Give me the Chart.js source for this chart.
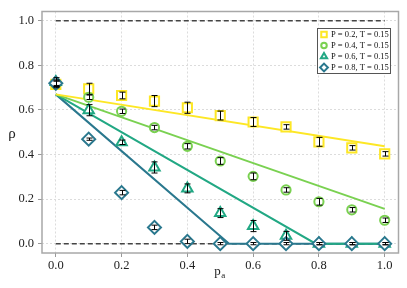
<!DOCTYPE html>
<html>
<head>
<meta charset="utf-8">
<script src="https://cdn.jsdelivr.net/npm/chart.js@4"></script>
<style>
  body { margin: 0; background: #fff; }
  canvas { display: block; }
</style>
</head>
<body>
<canvas id="myChart" width="407" height="288"></canvas>
<script>
// datos
const pa = [0.0, 0.1, 0.2, 0.3, 0.4, 0.5, 0.6, 0.7, 0.8, 0.9, 1.0];
const rhoP02 = [0.715, 0.695, 0.665, 0.640, 0.610, 0.575, 0.546, 0.524, 0.457, 0.430, 0.403];
const errP02 = [0.015, 0.025, 0.015, 0.025, 0.025, 0.020, 0.020, 0.010, 0.020, 0.010, 0.010];
const rhoP04 = [0.720, 0.657, 0.594, 0.521, 0.437, 0.371, 0.302, 0.241, 0.188, 0.152, 0.105];
const errP04 = [0.010, 0.010, 0.010, 0.010, 0.012, 0.015, 0.015, 0.010, 0.015, 0.010, 0.010];
const rhoP06 = [0.725, 0.599, 0.455, 0.342, 0.248, 0.137, 0.079, 0.035, 0.0, 0.0, 0.0];
const errP06 = [0.020, 0.025, 0.010, 0.025, 0.020, 0.020, 0.025, 0.020, 0.005, 0.005, 0.005];
const rhoP08 = [0.720, 0.469, 0.229, 0.073, 0.010, 0.0, 0.0, 0.0, 0.0, 0.0, 0.0];
const errP08 = [0.015, 0.005, 0.010, 0.010, 0.010, 0.005, 0.005, 0.005, 0.005, 0.005, 0.005];

// rectas de ajuste
const fitX02 = [0.0, 1.0];   const fitY02 = [0.67, 0.437];
const fitX04 = [0.0, 1.0];   const fitY04 = [0.67, 0.156];
const fitX06 = [0.0, 0.79, 1.0];  const fitY06 = [0.67, 0.0, 0.0];
const fitX08 = [0.0, 0.527, 1.0]; const fitY08 = [0.67, 0.0, 0.0];

const refX = [0.0, 1.0];
const xTicks = [0.0, 0.2, 0.4, 0.6, 0.8, 1.0];
const yTicks = [0.0, 0.2, 0.4, 0.6, 0.8, 1.0];
const labels = ["P = 0.2, T = 0.15", "P = 0.4, T = 0.15", "P = 0.6, T = 0.15", "P = 0.8, T = 0.15"];

const colors = ["#fde725", "#7ad151", "#22a884", "#2a788e"];
const styles = ["rect", "circle", "triangle", "rectRot"];
const radii = [6.5, 4.6, 6, 6.5];
const series = [rhoP02, rhoP04, rhoP06, rhoP08];
const errors = [errP02, errP04, errP06, errP08];
const fits = [[fitX02, fitY02], [fitX04, fitY04], [fitX06, fitY06], [fitX08, fitY08]];

const pts = (xs, ys) => xs.map((x, i) => ({ x: x, y: ys[i] }));
const serif = "'Liberation Serif', 'DejaVu Serif', serif";

const datasets = [];
[1.0, 0.0].forEach(v => {
    datasets.push({
        data: pts(refX, refX.map(() => v)),
        showLine: true, borderColor: "#444", borderWidth: 1.5, borderDash: [5, 3],
        pointRadius: 0, order: 20
    });
});
fits.forEach((f, i) => {
    datasets.push({
        data: pts(f[0], f[1]),
        showLine: true, borderColor: colors[i], borderWidth: 2,
        pointRadius: 0, order: 10
    });
});
series.forEach((s, i) => {
    datasets.push({
        label: labels[i],
        data: pts(pa, s),
        showLine: false,
        pointStyle: styles[i], pointRadius: radii[i],
        backgroundColor: "#fff", borderColor: colors[i], pointBorderWidth: 2,
        order: 5 - i
    });
});

// barras de error, marco, leyenda y titulos de ejes
const extras = {
    id: "extras",
    afterDatasetsDraw(chart) {
        const ctx = chart.ctx, xs = chart.scales.x, ys = chart.scales.y, a = chart.chartArea;
        ctx.save();
        ctx.strokeStyle = "#000";
        ctx.lineWidth = 1;
        series.forEach((s, i) => {
            s.forEach((v, j) => {
                const px = Math.round(xs.getPixelForValue(pa[j])) + 0.5;
                const top = ys.getPixelForValue(v + errors[i][j]);
                const bot = ys.getPixelForValue(v - errors[i][j]);
                ctx.beginPath();
                ctx.moveTo(px, top); ctx.lineTo(px, bot);
                ctx.moveTo(px - 3, top); ctx.lineTo(px + 3, top);
                ctx.moveTo(px - 3, bot); ctx.lineTo(px + 3, bot);
                ctx.stroke();
            });
        });

        // marco
        ctx.strokeStyle = "#a8a8a8";
        ctx.lineWidth = 1.5;
        ctx.strokeRect(a.left, a.top, a.right - a.left, a.bottom - a.top);

        // leyenda
        const lx = 317, ly = 28, lw = 73, lh = 45;
        ctx.fillStyle = "#fff";
        ctx.fillRect(lx, ly, lw, lh);
        ctx.strokeStyle = "#555";
        ctx.lineWidth = 1;
        ctx.strokeRect(lx + 0.5, ly + 0.5, lw, lh);
        ctx.font = "8.5px " + serif;
        ctx.textBaseline = "middle";
        labels.forEach((t, i) => {
            const yy = ly + 6.5 + i * 11;
            ctx.fillStyle = "#fff";
            ctx.strokeStyle = colors[i];
            ctx.lineWidth = 2;
            Chart.helpers.drawPoint(ctx, { pointStyle: styles[i], radius: radii[i] * 0.6, rotation: 0, borderWidth: 2 }, lx + 7, yy);
            ctx.fillStyle = "#111";
            ctx.fillText(t, lx + 14, yy);
        });

        // titulos
        ctx.fillStyle = "#222";
        ctx.textAlign = "center";
        ctx.font = "15px " + serif;
        ctx.fillText("ρ", 12, (a.top + a.bottom) / 2 + 2);
        ctx.font = "13px " + serif;
        const cx = (a.left + a.right) / 2;
        ctx.textAlign = "left";
        ctx.fillText("p", cx - 6, 272);
        ctx.font = "9px " + serif;
        ctx.fillText("a", cx + 1, 276);
        ctx.restore();
    }
};

const axisCommon = {
    type: "linear",
    min: -0.042, max: 1.042,
    grid: { color: "#dcdcdc", lineWidth: 1, tickLength: 4, tickColor: "#999", tickBorderDash: [] },
    border: { display: false, dash: [2, 2] },
    ticks: { color: "#222", font: { family: serif, size: 12.5 }, callback: v => v.toFixed(1) }
};

new Chart(document.getElementById("myChart").getContext("2d"), {
    type: "scatter",
    data: { datasets: datasets },
    options: {
        responsive: false,
        animation: false,
        layout: { padding: { left: 0, right: 7, top: 6, bottom: 0 } },
        plugins: { legend: { display: false }, tooltip: { enabled: false } },
        scales: {
            x: Object.assign({}, axisCommon, {
                ticks: Object.assign({}, axisCommon.ticks, { padding: 1 }),
                afterBuildTicks: s => { s.ticks = xTicks.map(v => ({ value: v })); },
                afterFit: s => { s.height = 35; }
            }),
            y: Object.assign({}, axisCommon, {
                ticks: Object.assign({}, axisCommon.ticks, { padding: 4 }),
                afterBuildTicks: s => { s.ticks = yTicks.map(v => ({ value: v })); },
                afterFit: s => { s.width = 42; }
            })
        }
    },
    plugins: [extras]
});
</script>
</body>
</html>
